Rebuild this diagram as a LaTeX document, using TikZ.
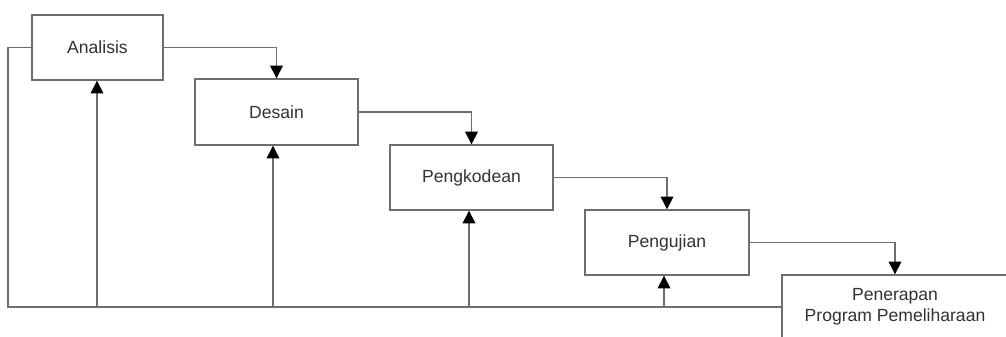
\documentclass[tikz,border=0pt]{standalone}
\usepackage{fontspec}
\setmainfont{Liberation Sans}
\usetikzlibrary{arrows.meta}

\definecolor{linegray}{RGB}{110,110,110}
\definecolor{textgray}{RGB}{50,50,50}

\begin{document}
\begin{tikzpicture}[x=0.02cm, y=-0.02cm,
        phase/.style={draw=linegray, line width=0.8pt, fill=white, text=textgray, inner sep=0pt, font=\fontsize{10}{12}\selectfont},
        link/.style={draw=linegray, line width=0.8pt},
        flow/.style={link, -{Triangle[length=7.2pt, width=7.2pt, black]}}]
        \useasboundingbox (0,0) rectangle (1006,336);
        \clip (0,0) rectangle (1006,336);

        \node[phase, minimum width=2.62cm, minimum height=1.30cm] (analisis) at (97.5, 47.5) {Analisis};
        \node[phase, minimum width=3.26cm, minimum height=1.32cm] (desain) at (276.5, 112) {Desain};
        \node[phase, minimum width=3.26cm, minimum height=1.30cm] (pengkodean) at (471.5, 177.5) {Pengkodean};
        \node[phase, minimum width=3.28cm, minimum height=1.30cm] (pengujian) at (667, 242.5) {Pengujian};
        \node[phase, minimum width=4.52cm, minimum height=1.28cm, align=center] (penerapan) at (895, 307) {Penerapan\\Program Pemeliharaan};

        \draw[flow] (analisis.east) -| (desain.north);
        \draw[flow] (desain.east) -| (pengkodean.north);
        \draw[flow] (pengkodean.east) -| (pengujian.north);
        \draw[flow] (pengujian.east) -| (penerapan.north);

        % feedback line
        \coordinate (loop) at (8, 307);
        \coordinate (back1) at (97, 307);
        \coordinate (back2) at (273, 307);
        \coordinate (back3) at (469, 307);
        \coordinate (back4) at (664, 307);
        \draw[link] (penerapan.west) -- (loop) |- (analisis.west);
        \draw[flow] (back1) -- (back1 |- analisis.south);
        \draw[flow] (back2) -- (back2 |- desain.south);
        \draw[flow] (back3) -- (back3 |- pengkodean.south);
        \draw[flow] (back4) -- (back4 |- pengujian.south);
    \end{tikzpicture}
\end{document}
